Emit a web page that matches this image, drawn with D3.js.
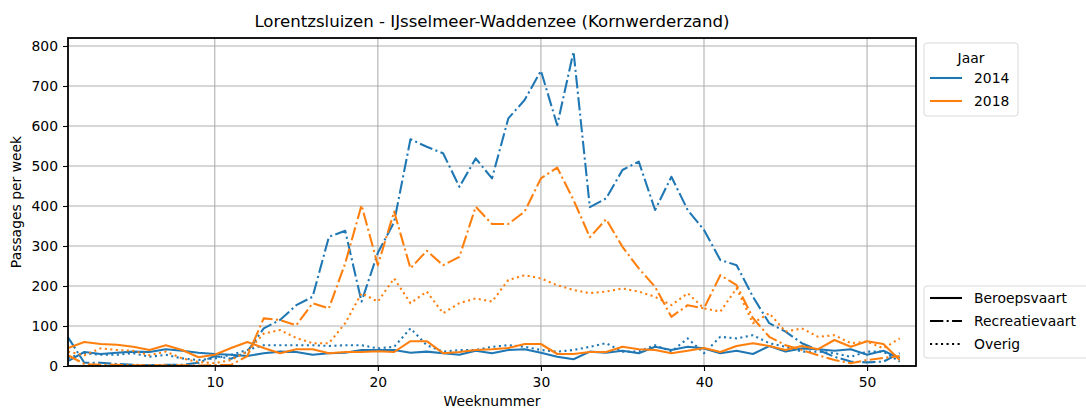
<!DOCTYPE html>
<html>
<head>
<meta charset="utf-8">
<script src="https://cdn.jsdelivr.net/npm/d3@7"></script>
<style>
  body { margin: 0; background: #fff; }
  svg { font-family: "DejaVu Sans", sans-serif; }
</style>
</head>
<body>
<div id="root"></div>
<script>
// weeks 1..52
const weeks = d3.range(1, 53);

const beroeps2014 = [12, 35, 30, 33, 36, 35, 42, 38, 33, 30, 28, 25, 32, 36, 35, 28, 32, 33, 40, 40,
  40, 33, 36, 32, 28, 38, 32, 40, 42, 33, 23, 17, 36, 33, 38, 32, 48, 40, 48, 44,
  32, 38, 30, 50, 36, 44, 42, 38, 42, 28, 38, 19];
const recreatie2014 = [72, 8, 8, 5, 3, 2, 3, 3, 8, 25, 18, 36, 94, 115, 152, 173, 323, 338, 161, 283,
  360, 567, 548, 532, 448, 519, 469, 619, 665, 738, 602, 786, 397, 419, 490, 511, 390, 473, 390, 340,
  265, 252, 173, 107, 86, 57, 40, 23, 11, 9, 11, 32];
const overig2014 = [20, 32, 28, 28, 32, 23, 28, 19, 15, 19, 28, 40, 52, 52, 52, 52, 50, 52, 52, 44,
  48, 94, 52, 36, 40, 40, 48, 52, 48, 40, 36, 40, 48, 57, 36, 36, 52, 36, 69, 32,
  73, 69, 77, 57, 48, 36, 36, 32, 23, 36, 36, 11];

const beroeps2018 = [45, 60, 55, 53, 48, 40, 52, 40, 22, 28, 45, 60, 45, 32, 42, 42, 32, 35, 35, 37,
  35, 62, 62, 32, 35, 40, 42, 45, 55, 55, 30, 30, 35, 35, 48, 42, 40, 32, 38, 45,
  35, 50, 57, 50, 40, 50, 42, 65, 48, 62, 55, 15];
const recreatie2018 = [27, 5, 3, 3, 2, 2, 2, 2, 1, 2, 3, 25, 119, 115, 102, 157, 144, 257, 402, 252,
  386, 244, 288, 252, 273, 398, 355, 355, 386, 469, 496, 415, 322, 367, 298, 244, 198, 123, 152, 144,
  227, 202, 120, 73, 52, 40, 27, 15, 7, 15, 20, 25];
const overig2018 = [36, 27, 44, 40, 38, 27, 36, 19, 10, 7, 15, 36, 81, 90, 70, 57, 57, 107, 182, 161,
  219, 157, 186, 132, 157, 169, 161, 215, 227, 219, 202, 190, 182, 186, 194, 186, 173, 152, 182, 144,
  136, 194, 107, 132, 86, 94, 73, 77, 57, 61, 44, 69];

const years = ["2014", "2018"];
const types = ["Beroepsvaart", "Recreatievaart", "Overig"];
const yTicks = [0, 100, 200, 300, 400, 500, 600, 700, 800];
const xTicks = [10, 20, 30, 40, 50];

const series = [
  { year: "2014", type: "Beroepsvaart", values: beroeps2014 },
  { year: "2014", type: "Recreatievaart", values: recreatie2014 },
  { year: "2014", type: "Overig", values: overig2014 },
  { year: "2018", type: "Beroepsvaart", values: beroeps2018 },
  { year: "2018", type: "Recreatievaart", values: recreatie2018 },
  { year: "2018", type: "Overig", values: overig2018 }
];

const lw = 2.08;
const color = d3.scaleOrdinal().domain(years).range(["#1f77b4", "#ff7f0e"]);
const dash = d3.scaleOrdinal().domain(types)
  .range(["none", [6.4, 1.6, 1, 1.6].map(v => v * lw).join(","), [1, 1.65].map(v => v * lw).join(",")]);

const W = 1086, H = 410;
const margin = { top: 38, right: 170, bottom: 44, left: 68 };
const width = W - margin.left - margin.right;   // 848
const height = H - margin.top - margin.bottom;  // 328

const x = d3.scaleLinear().domain([1, 53]).range([0, width]);
const y = d3.scaleLinear().domain([0, 820]).range([height, 0]);

const svg = d3.select("#root").append("svg")
  .attr("width", W).attr("height", H);

const g = svg.append("g")
  .attr("transform", "translate(" + margin.left + "," + margin.top + ")");

// grid
g.append("g").selectAll("line").data(yTicks).join("line")
  .attr("x1", 0).attr("x2", width)
  .attr("y1", d => y(d)).attr("y2", d => y(d))
  .attr("stroke", "#b0b0b0").attr("stroke-width", 1.1);
g.append("g").selectAll("line").data(xTicks).join("line")
  .attr("y1", 0).attr("y2", height)
  .attr("x1", d => x(d)).attr("x2", d => x(d))
  .attr("stroke", "#b0b0b0").attr("stroke-width", 1.1);

// lines
const line = d3.line()
  .x((d, i) => x(weeks[i]))
  .y(d => y(d));

svg.append("clipPath").attr("id", "clip")
  .append("rect").attr("width", width).attr("height", height);

g.append("g").attr("clip-path", "url(#clip)")
  .selectAll("path").data(series).join("path")
  .attr("d", d => line(d.values))
  .attr("fill", "none")
  .attr("stroke", d => color(d.year))
  .attr("stroke-width", lw)
  .attr("stroke-dasharray", d => dash(d.type))
  .attr("stroke-linejoin", "round");

// axes
const xAxis = g.append("g")
  .attr("transform", "translate(0," + height + ")")
  .call(d3.axisBottom(x).tickValues(xTicks).tickSize(5).tickPadding(6));
const yAxis = g.append("g")
  .call(d3.axisLeft(y).tickValues(yTicks).tickSize(5).tickPadding(5));
[xAxis, yAxis].forEach(a => {
  a.select(".domain").remove();
  a.selectAll("text").attr("font-size", "13.9px").attr("fill", "#000")
    .attr("font-family", "DejaVu Sans");
  a.selectAll("line").attr("stroke", "#000").attr("stroke-width", 1.1);
});

// frame
g.append("rect")
  .attr("width", width).attr("height", height)
  .attr("fill", "none").attr("stroke", "#000").attr("stroke-width", 1.8);

// title + labels
svg.append("text")
  .attr("x", margin.left + width / 2).attr("y", 27)
  .attr("text-anchor", "middle").attr("font-size", "16.6px")
  .text("Lorentzsluizen - IJsselmeer-Waddenzee (Kornwerderzand)");
svg.append("text")
  .attr("x", margin.left + width / 2).attr("y", 406)
  .attr("text-anchor", "middle").attr("font-size", "13.9px")
  .text("Weeknummer");
svg.append("text")
  .attr("transform", "translate(21," + (margin.top + height / 2) + ") rotate(-90)")
  .attr("text-anchor", "middle").attr("font-size", "13.9px")
  .text("Passages per week");

// legend: Jaar
const leg1 = svg.append("g").attr("transform", "translate(924,43)");
leg1.append("rect").attr("width", 94).attr("height", 73).attr("rx", 3)
  .attr("fill", "#fff").attr("fill-opacity", 0.8)
  .attr("stroke", "#d9d9d9").attr("stroke-width", 1);
leg1.append("text").attr("x", 47).attr("y", 20).attr("text-anchor", "middle")
  .attr("font-size", "13.9px").text("Jaar");
years.forEach((yr, i) => {
  const yy = 35 + i * 23;
  leg1.append("line").attr("x1", 6).attr("x2", 38).attr("y1", yy).attr("y2", yy)
    .attr("stroke", color(yr)).attr("stroke-width", lw);
  leg1.append("text").attr("x", 50).attr("y", yy + 5).attr("font-size", "13.9px").text(yr);
});

// legend: type
const leg2 = svg.append("g").attr("transform", "translate(924,286)");
leg2.append("rect").attr("width", 170).attr("height", 72).attr("rx", 3)
  .attr("fill", "#fff").attr("fill-opacity", 0.8)
  .attr("stroke", "#d9d9d9").attr("stroke-width", 1);
types.forEach((t, i) => {
  const yy = 12 + i * 23;
  leg2.append("line").attr("x1", 6).attr("x2", 38).attr("y1", yy).attr("y2", yy)
    .attr("stroke", "#000").attr("stroke-width", lw)
    .attr("stroke-dasharray", dash(t));
  leg2.append("text").attr("x", 50).attr("y", yy + 5).attr("font-size", "13.9px").text(t);
});
</script>
</body>
</html>
